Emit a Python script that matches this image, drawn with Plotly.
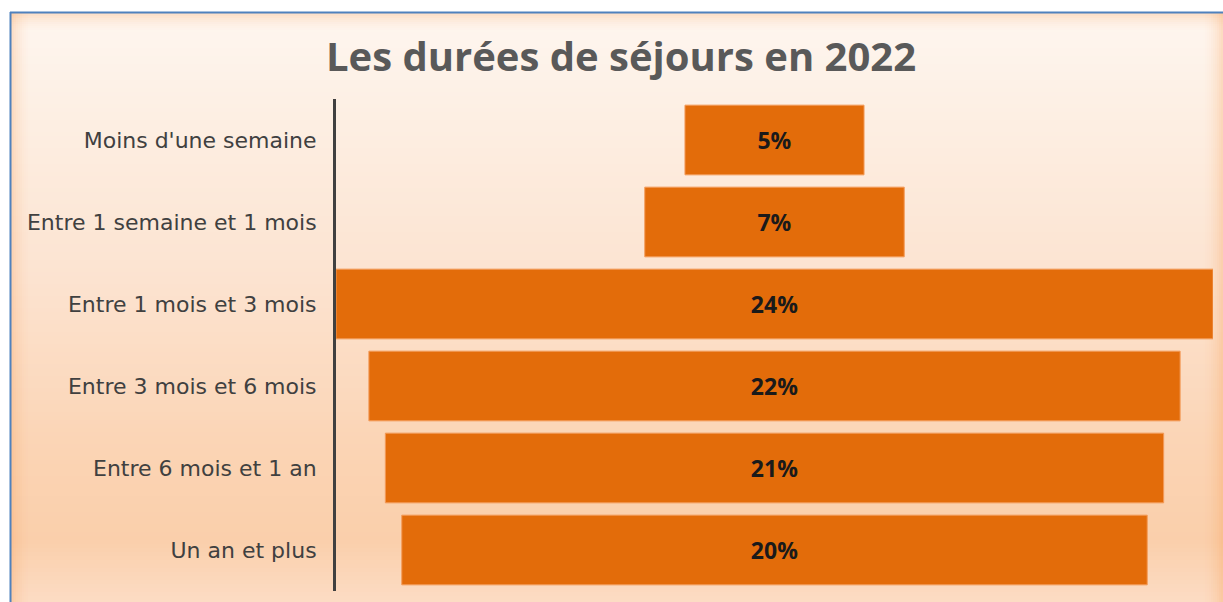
import plotly.graph_objects as go

categories = ["Moins d'une semaine", "Entre 1 semaine et 1 mois", "Entre 1 mois et 3 mois",
              "Entre 3 mois et 6 mois", "Entre 6 mois et 1 an", "Un an et plus"]
values = [4.9, 7.1, 24.0, 22.2, 21.3, 20.4]
title_text = "Les durées de séjours en 2022"

W, H = 1223, 602
L, R, T, B = 336, 10, 99, 11
PW = W - L - R
PH = H - T - B


def px(x):
    return (x - L) / PW


def py(y):
    return (H - B - y) / PH


def hex2rgb(h):
    h = h.lstrip("#")
    return tuple(int(h[i:i + 2], 16) for i in (0, 2, 4))


grad_stops = [(12, "#FEF6F0"), (100, "#FDF0E5"), (280, "#FCE3D0"),
              (450, "#FBD4B4"), (540, "#FACFAB"), (602, "#FCDCC4")]


def grad_color(y):
    for (y0, c0), (y1, c1) in zip(grad_stops[:-1], grad_stops[1:]):
        if y0 <= y <= y1:
            t = (y - y0) / (y1 - y0)
            a, b = hex2rgb(c0), hex2rgb(c1)
            return "rgb(%d,%d,%d)" % tuple(round(a[i] + (b[i] - a[i]) * t) for i in range(3))
    return grad_stops[-1][1]


shapes = []
# vertical gradient background
y = 12
step = 4
while y < 602:
    shapes.append(dict(type="rect", xref="paper", yref="paper", layer="below",
                       x0=px(10), x1=px(1230), y0=py(y), y1=py(min(y + step + 0.6, 604)),
                       fillcolor=grad_color(y + step / 2), line=dict(width=0)))
    y += step

# inner glow along edges
glow = (247, 150, 70)
n = 10
for i in range(n):
    a = 0.26 * (1 - i / n) ** 1.8
    col = "rgba(%d,%d,%d,%.3f)" % (glow + (a,))
    # left
    shapes.append(dict(type="rect", xref="paper", yref="paper", layer="below",
                       x0=px(10 + i * 2), x1=px(12 + i * 2), y0=py(12), y1=py(604),
                       fillcolor=col, line=dict(width=0)))
    # right
    shapes.append(dict(type="rect", xref="paper", yref="paper", layer="below",
                       x0=px(1223 - i * 2 - 2), x1=px(1223 - i * 2), y0=py(12), y1=py(604),
                       fillcolor=col, line=dict(width=0)))
    # top
    shapes.append(dict(type="rect", xref="paper", yref="paper", layer="below",
                       x0=px(10), x1=px(1230), y0=py(14 + i * 2), y1=py(12 + i * 2),
                       fillcolor=col, line=dict(width=0)))

# blue border
shapes.append(dict(type="line", xref="paper", yref="paper", layer="above",
                   x0=px(10), x1=px(1230), y0=py(12.5), y1=py(12.5),
                   line=dict(color="#4F81BD", width=2)))
shapes.append(dict(type="line", xref="paper", yref="paper", layer="above",
                   x0=px(10.5), x1=px(10.5), y0=py(12), y1=py(610),
                   line=dict(color="#4F81BD", width=2)))

fig = go.Figure(go.Funnel(
    y=categories,
    x=values,
    texttemplate="%{x:.0f}%",
    textposition="inside",
    insidetextanchor="middle",
    textfont=dict(family="Open Sans", size=23, color="#1A1A1A", weight="bold"),
    marker=dict(color="#E36C0A", line=dict(color="#F39A58", width=1)),
    connector=dict(visible=False),
    hoverinfo="y+x",
))

fig.update_layout(
    width=W, height=H,
    margin=dict(l=L, r=R, t=T, b=B, autoexpand=False),
    paper_bgcolor="white",
    plot_bgcolor="rgba(0,0,0,0)",
    funnelgap=0.15,
    showlegend=False,
    shapes=shapes,
    title=dict(text=title_text, xref="container", yref="container",
               x=621 / W, y=1 - 57 / H, xanchor="center", yanchor="middle",
               font=dict(family="Open Sans", size=40, color="#595959", weight="bold")),
    xaxis=dict(range=[-12, 12], visible=False, fixedrange=True),
    yaxis=dict(showline=True, linecolor="#404040", linewidth=3,
               showgrid=False, zeroline=False, ticks="",
               ticklabelstandoff=12,
               tickfont=dict(family="DejaVu Sans", size=22, color="#404040")),
)

fig.write_html("out.html", config={"displayModeBar": False},
               post_script="document.body.style.margin='0px';")
